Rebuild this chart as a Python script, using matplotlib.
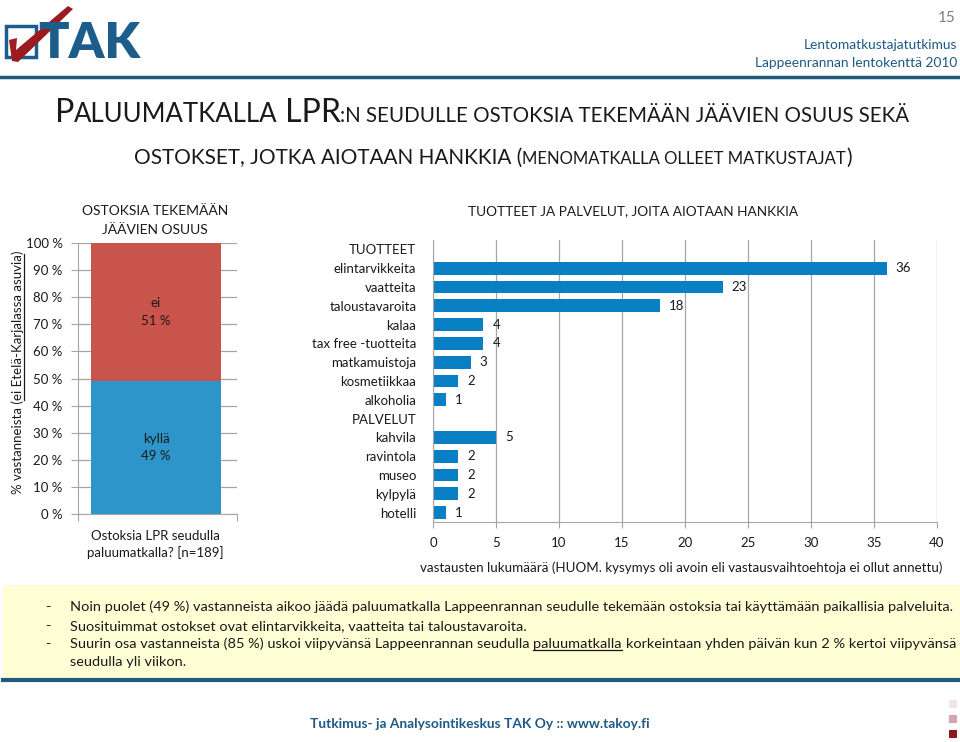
import matplotlib
matplotlib.use('Agg')
import matplotlib.pyplot as plt
import numpy as np
from matplotlib.patches import Rectangle, Polygon
from matplotlib.lines import Line2D
from matplotlib.ticker import FuncFormatter

# ---------------- data ----------------
share_labels = ['kyllä', 'ei']
share_values = [49, 51]
share_ticks = [0, 10, 20, 30, 40, 50, 60, 70, 80, 90, 100]

item_labels = ['TUOTTEET', 'elintarvikkeita', 'vaatteita', 'taloustavaroita', 'kalaa',
               'tax free -tuotteita', 'matkamuistoja', 'kosmetiikkaa', 'alkoholia',
               'PALVELUT', 'kahvila', 'ravintola', 'museo', 'kylpylä', 'hotelli']
item_values = [np.nan, 36, 23, 18, 4, 4, 3, 2, 1, np.nan, 5, 2, 2, 2, 1]
count_ticks = [0, 5, 10, 15, 20, 25, 30, 35, 40]

bullets = [
    [('Noin puolet (49 %) vastanneista aikoo jäädä paluumatkalla Lappeenrannan seudulle tekemään ostoksia tai käyttämään paikallisia palveluita.', False)],
    [('Suosituimmat ostokset ovat elintarvikkeita, vaatteita tai taloustavaroita.', False)],
    [('Suurin osa vastanneista (85 %) uskoi viipyvänsä Lappeenrannan seudulla ', False),
     ('paluumatkalla', True),
     (' korkeintaan yhden päivän kun 2 % kertoi viipyvänsä', False)],
    [('seudulla yli viikon.', False)],
]

# ---------------- setup ----------------
plt.rcParams['font.family'] = ['Lato', 'DejaVu Sans']
W, H = 960, 742
fig = plt.figure(figsize=(9.6, 7.42), dpi=100)
fig.patch.set_facecolor('white')
renderer = fig.canvas.get_renderer()

TXT = '#1a1a1a'
BLUE_TXT = '#1f5a85'
GRID = '#a6a6a6'


def fx(x):
    return x / W


def fy(y):
    return 1 - y / H


def measure(s, size, weight='normal'):
    t = fig.text(0, 0, s, fontsize=size, fontweight=weight)
    w = t.get_window_extent(renderer).width
    t.remove()
    return w


def pw(s, size, weight='normal'):
    return measure('|' + s + '|', size, weight) - measure('||', size, weight)


def rich_line(x, y, parts, ha='left', color=TXT, weight='normal'):
    """parts: list of (text, size, underline)"""
    widths = [pw(s, sz, weight) for s, sz, _ in parts]
    total = sum(widths)
    x0 = x - total / 2 if ha == 'center' else (x - total if ha == 'right' else x)
    cur = x0
    for (s, sz, ul), w in zip(parts, widths):
        lead = len(s) - len(s.lstrip(' '))
        core = s.strip(' ')
        start = cur + (pw(' ' * lead, sz, weight) if lead else 0)
        fig.text(fx(start), fy(y), core, fontsize=sz, color=color, fontweight=weight,
                 ha='left', va='baseline')
        if ul:
            fig.add_artist(Line2D([fx(start), fx(start + pw(core, sz, weight))],
                                  [fy(y + 2), fy(y + 2)], color=color, lw=0.9))
        cur += w
    return total


def fit_size(s, target, base=10, weight='normal'):
    return base * target / measure(s, base, weight)


# ---------------- header ----------------
fig.add_artist(Rectangle((fx(6), fy(57)), 30 / W, 31 / H, fill=False, ec='#1b5e8c', lw=2.5))
fig.text(fx(38), fy(58), 'TAK', fontsize=fit_size('TAK', 102, 30, 'heavy'),
         fontweight='heavy', color='#1b5e8c', ha='left', va='baseline')
fig.add_artist(Polygon([(fx(9), fy(40)), (fx(17), fy(38)), (fx(16), fy(50)),
                        (fx(68), fy(6)), (fx(73), fy(9)), (fx(18), fy(62)),
                        (fx(12), fy(61))], closed=True, fc='#9b1b1e', ec='none'))
fig.add_artist(Line2D([0, 1], [fy(77), fy(77)], color='#1f5a7a', lw=2.5))

fig.text(fx(956), fy(22), '15', fontsize=11, color='#7f7f7f', ha='right', va='baseline')
hs = fit_size('Lappeenrannan lentokenttä 2010', 202)
fig.text(fx(957), fy(49), 'Lentomatkustajatutkimus', fontsize=hs, color=BLUE_TXT,
         ha='right', va='baseline')
fig.text(fx(957), fy(67), 'Lappeenrannan lentokenttä 2010', fontsize=hs, color=BLUE_TXT,
         ha='right', va='baseline')

# ---------------- title (small caps style) ----------------
A, B, C = 1.0, 0.8, 0.64
line1 = [('P', A), ('ALUUMATKALLA ', B), ('LPR', A),
         (':N SEUDULLE OSTOKSIA TEKEMÄÄN JÄÄVIEN OSUUS SEKÄ', C)]
line2 = [('OSTOKSET, JOTKA AIOTAAN HANKKIA (', B), ('MENOMATKALLA OLLEET MATKUSTAJAT', C),
         (')', B)]
w1 = sum(pw(s, 20 * k) for s, k in line1)
base1 = 20 * 855 / w1
rich_line(55, 122, [(s, base1 * k, False) for s, k in line1])
w2 = sum(pw(s, 20 * k) for s, k in line2)
base2 = 20 * 717 / w2
rich_line(493, 164, [(s, base2 * k, False) for s, k in line2], ha='center')

# ---------------- left chart ----------------
ax1 = fig.add_axes([fx(78), fy(514), (237 - 78) / W, (514 - 243) / H])
bottom = 0
colors = ['#2e95cb', '#c9544c']
for lab, v, c in zip(share_labels, share_values, colors):
    ax1.bar(0, v, width=0.8, bottom=bottom, color=c, zorder=2)
    ax1.text(0, bottom + v * 0.5, f'{lab}\n{v} %', ha='center', va='center',
             fontsize=9.5, color=TXT, linespacing=1.55, zorder=3)
    bottom += v
ax1.set_xlim(-0.48, 0.498)
ax1.set_ylim(0, 100)
ax1.set_yticks(share_ticks)
ax1.yaxis.set_major_formatter(FuncFormatter(lambda v, p: f'{int(v)} %'))
ax1.set_xticks([-0.48, 0.498])
ax1.set_xticklabels([])
ax1.grid(axis='y', color=GRID, lw=0.9, zorder=0)
for s in ['top', 'right']:
    ax1.spines[s].set_visible(False)
for s in ['left', 'bottom']:
    ax1.spines[s].set_color(GRID)
ax1.tick_params(axis='y', length=5, color=GRID, pad=6, labelsize=9.5, labelcolor=TXT)
ax1.tick_params(axis='x', length=5, color=GRID)
ax1.set_facecolor('none')

ts = fit_size('OSTOKSIA TEKEMÄÄN', 146)
fig.text(fx(155), fy(215), 'OSTOKSIA TEKEMÄÄN', fontsize=ts, ha='center', va='baseline', color=TXT)
fig.text(fx(155), fy(234), 'JÄÄVIEN OSUUS', fontsize=ts, ha='center', va='baseline', color=TXT)
fig.text(fx(155), fy(540), 'Ostoksia LPR seudulla', fontsize=9.5, ha='center',
         va='baseline', color=TXT)
fig.text(fx(155), fy(557), 'paluumatkalla? [n=189]', fontsize=9.5, ha='center',
         va='baseline', color=TXT)

# rotated y label with underline
yl_parts = [('% vastanneista (', False), ('ei Etelä-Karjalassa asuvia', True), (')', False)]
yl_size = 9.5
yl_total = sum(pw(s, yl_size) for s, _ in yl_parts)
cur = 372 + yl_total / 2
bx = 22
for s, ul in yl_parts:
    w = pw(s, yl_size)
    fig.text(fx(bx), fy(cur), s, fontsize=yl_size, rotation=90, rotation_mode='anchor',
             ha='left', va='baseline', color=TXT)
    if ul:
        fig.add_artist(Line2D([fx(bx + 2), fx(bx + 2)], [fy(cur), fy(cur - w)],
                              color=TXT, lw=0.9))
    cur -= w

# ---------------- right chart ----------------
ax2 = fig.add_axes([fx(433), fy(522), (937 - 433) / W, (522 - 240) / H])
ypos = np.arange(len(item_labels))
vals = np.array(item_values, dtype=float)
ax2.barh(ypos, np.nan_to_num(vals), height=0.68, color='#0a80c4', zorder=2)
for y, v in zip(ypos, vals):
    if not np.isnan(v):
        ax2.annotate(f'{int(v)}', (v, y), xytext=(9, 0), textcoords='offset pixels',
                     ha='left', va='center', fontsize=9.5, color=TXT)
ax2.set_ylim(len(item_labels) - 0.5, -0.5)
ax2.set_xlim(0, 40)
ax2.set_xticks(count_ticks)
ax2.set_yticks(ypos)
ax2.set_yticklabels(item_labels)
ax2.grid(axis='x', color=GRID, lw=0.9, zorder=0)
for s in ['top', 'right']:
    ax2.spines[s].set_visible(False)
for s in ['left', 'bottom']:
    ax2.spines[s].set_color(GRID)
ax2.tick_params(axis='y', length=0, pad=12, labelsize=9.5, labelcolor=TXT)
ax2.tick_params(axis='x', length=4, color=GRID, pad=7, labelsize=9.5, labelcolor=TXT)
ax2.set_facecolor('none')

rt = 'TUOTTEET JA PALVELUT, JOITA AIOTAAN HANKKIA'
fig.text(fx(633), fy(215), rt, fontsize=fit_size(rt, 329), ha='center', va='baseline',
         color=TXT)
xl = 'vastausten lukumäärä (HUOM. kysymys oli avoin eli vastausvaihtoehtoja ei ollut annettu)'
fig.text(fx(420), fy(572), xl, fontsize=fit_size(xl, 520), ha='left', va='baseline',
         color=TXT)

# ---------------- text box ----------------
fig.add_artist(Rectangle((fx(3), fy(679)), 957 / W, (679 - 585) / H, fc='#ffffd6',
                         ec='none', zorder=0))
fig.add_artist(Line2D([fx(3), 1], [fy(680), fy(680)], color='#1f5a7a', lw=3))
bsize = fit_size(bullets[0][0][0], 878)
ys = [611, 630, 648, 666]
for i, (parts, y) in enumerate(zip(bullets, ys)):
    if i < 3:
        fig.text(fx(45), fy(y), '-', fontsize=bsize, ha='left', va='baseline', color=TXT)
    rich_line(70, y, [(s, bsize, ul) for s, ul in parts])

# ---------------- footer ----------------
ft = 'Tutkimus- ja Analysointikeskus TAK Oy :: www.takoy.fi'
fig.text(fx(310), fy(728), ft, fontsize=fit_size(ft, 340, weight='bold'), fontweight='bold',
         color=BLUE_TXT, ha='left', va='baseline')
for y, c in zip([700, 715, 730], ['#f2e4e8', '#d6a3b0', '#8b1a1e']):
    fig.add_artist(Rectangle((fx(949), fy(y + 8)), 8 / W, 8 / H, fc=c, ec='none'))

fig.savefig('out.png', dpi=100)
